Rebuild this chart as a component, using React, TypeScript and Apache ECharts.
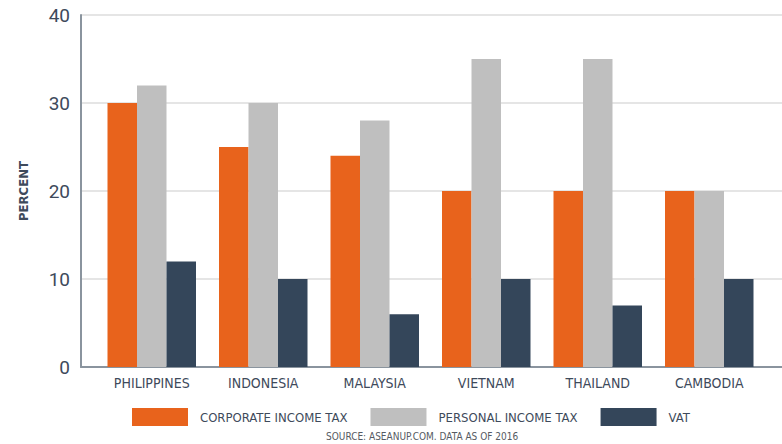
import React, { useEffect, useRef } from "react";
import * as echarts from "echarts";

const categories = ["PHILIPPINES", "INDONESIA", "MALAYSIA", "VIETNAM", "THAILAND", "CAMBODIA"];
const corporateIncomeTax = [30, 25, 24, 20, 20, 20];
const personalIncomeTax = [32, 30, 28, 35, 35, 20];
const vat = [12, 10, 6, 10, 7, 10];
const seriesNames = ["CORPORATE INCOME TAX", "PERSONAL INCOME TAX", "VAT"];
const yTicks = { min: 0, max: 40, interval: 10 };
const sourceNote = "SOURCE: ASEANUP.COM. DATA AS OF 2016";

const NARROW = '"Liberation Sans Narrow", "DejaVu Sans Condensed", "Roboto", sans-serif';
const TEXT = "#3e4a5b";

export default function App() {
  const ref = useRef<HTMLDivElement>(null);
  useEffect(() => {
    document.body.style.margin = "0";
    if (!ref.current) return;
    const chart = echarts.init(ref.current, null, { renderer: "svg" });
    const colors = ["#e8631c", "#bfbfbf", "#34465a"];
    const data = [corporateIncomeTax, personalIncomeTax, vat];
    chart.setOption({
      animation: false,
      backgroundColor: "#ffffff",
      grid: [
        { left: 96, right: 17, top: 15, bottom: 77 },
        { left: 81, right: 0, top: 15, bottom: 77 },
      ],
      xAxis: [
        {
          type: "category",
          gridIndex: 0,
          data: categories,
          axisLine: { show: false },
          axisTick: { show: false },
          axisLabel: { color: TEXT, fontFamily: NARROW, fontSize: 14, margin: 9 },
        },
        {
          type: "category",
          gridIndex: 1,
          data: [""],
          axisLine: { show: true, lineStyle: { color: "#8a949e", width: 2 } },
          axisTick: { show: false },
          axisLabel: { show: false },
        },
      ],
      yAxis: [
        {
          type: "value",
          gridIndex: 0,
          min: yTicks.min,
          max: yTicks.max,
          interval: yTicks.interval,
          show: false,
          splitLine: { show: false },
        },
        {
          type: "value",
          gridIndex: 1,
          min: yTicks.min,
          max: yTicks.max,
          interval: yTicks.interval,
          name: "PERCENT",
          nameLocation: "middle",
          nameGap: 51,
          nameTextStyle: { color: TEXT, fontFamily: NARROW, fontSize: 13, fontWeight: "bold" },
          axisLine: { show: true, lineStyle: { color: "#8a949e", width: 2 } },
          axisTick: { show: false },
          axisLabel: { color: TEXT, fontFamily: "Roboto, sans-serif", fontSize: 19, margin: 11 },
          splitLine: { show: true, lineStyle: { color: "#dddddd", width: 1.5 } },
        },
      ],
      legend: {
        left: 127,
        top: 403,
        itemWidth: 56,
        itemHeight: 18,
        itemGap: 23,
        icon: "rect",
        data: seriesNames,
        textStyle: { color: TEXT, fontFamily: NARROW, fontSize: 13, padding: [0, 0, 0, 7] },
      },
      graphic: [
        {
          type: "text",
          left: 326,
          top: 431,
          style: { text: sourceNote, fill: "#555a62", font: `10px ${NARROW}` },
        },
      ],
      series: seriesNames.map((name, i) => ({
        name,
        type: "bar",
        xAxisIndex: 0,
        yAxisIndex: 0,
        data: data[i],
        barWidth: 29.5,
        barGap: "0%",
        itemStyle: { color: colors[i] },
      })),
    });
    return () => chart.dispose();
  }, []);
  return <div ref={ref} style={{ width: 782, height: 444 }} />;
}
